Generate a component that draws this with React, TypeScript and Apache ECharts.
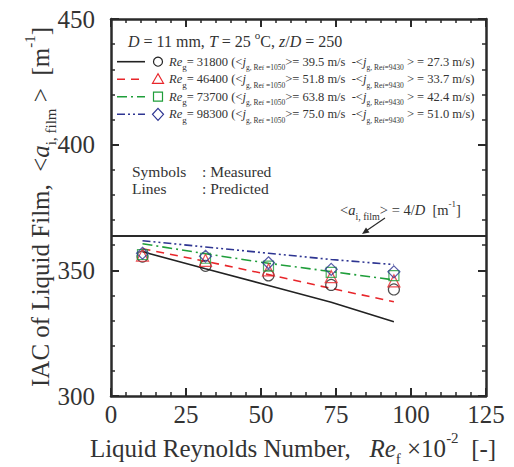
import React, { useEffect, useRef } from "react";
import * as echarts from "echarts";

const FONT = "Liberation Serif";
const INK = "#2a2a2a";
const TXT = "#333333";

const reF = [10.5, 31.5, 52.5, 73.4, 94.3];
const xMin = 0, xMax = 125, xStep = 25;
const yMin = 300, yMax = 450, yStep = 50;

const measuredCircle = [355.5, 351.8, 348.0, 344.2, 342.4];
const measuredTriangle = [356.0, 354.0, 350.2, 347.5, 345.8];
const measuredSquare = [356.3, 354.8, 351.7, 349.2, 347.9];
const measuredDiamond = [356.8, 355.6, 353.0, 350.4, 349.4];

const predictedBlack = [357.4, 350.6, 344.0, 337.3, 329.5];
const predictedRed = [358.6, 353.6, 348.3, 342.8, 337.5];
const predictedGreen = [360.6, 356.6, 352.8, 349.5, 346.2];
const predictedBlue = [361.8, 359.3, 356.8, 354.3, 352.3];

const filmValue = 4 / 0.011;

const regValues = ["31800", "46400", "73700", "98300"];
const jLow = ["39.5", "51.8", "63.8", "75.0"];
const jHigh = ["27.3", "33.7", "42.4", "51.0"];

const colors = ["#222222", "#e8262b", "#1f9e3a", "#2e3592"];
const dashes: any[] = ["solid", [8, 6], [10, 4, 2, 4], [8, 3, 2, 3, 2, 3]];
const symbols = ["circle", "triangle", "rect", "diamond"];
const symbolSizes = [11, 12, 10, 12];

const measured = [measuredCircle, measuredTriangle, measuredSquare, measuredDiamond];
const predicted = [predictedBlack, predictedRed, predictedGreen, predictedBlue];

function axisCommon(pos: string) {
  return {
    type: "value",
    position: pos,
    axisLine: { show: true, onZero: false, lineStyle: { color: INK, width: 2.5 } },
    axisTick: { show: true, inside: true, length: 8, lineStyle: { color: INK, width: 2 } },
    minorTick: { show: true, splitNumber: 5, length: 4, lineStyle: { color: INK, width: 1.5 } },
    splitLine: { show: false },
    minorSplitLine: { show: false },
  } as any;
}

function tok(size: number, extra: any = {}) {
  return { fontSize: size, fontFamily: FONT, fontWeight: "normal", fill: TXT, ...extra };
}

export default function App() {
  const ref = useRef<HTMLDivElement>(null);
  useEffect(() => {
    if (!ref.current) return;
    const chart = echarts.init(ref.current, undefined, { renderer: "svg" });

    const series: any[] = [];
    series.push({
      type: "line",
      data: [[xMin, filmValue], [xMax, filmValue]],
      symbol: "none",
      lineStyle: { color: INK, width: 2 },
      z: 3,
    });
    predicted.forEach((vals, i) => {
      series.push({
        type: "line",
        data: reF.map((x, k) => [x, vals[k]]),
        symbol: "none",
        lineStyle: { color: colors[i], width: 1.6, type: dashes[i] },
        z: 3,
      });
    });
    measured.forEach((vals, i) => {
      series.push({
        type: "scatter",
        data: reF.map((x, k) => [x, vals[k]]),
        symbol: symbols[i],
        symbolSize: symbolSizes[i],
        itemStyle: { color: "rgba(0,0,0,0)", borderColor: colors[i], borderWidth: 1.2 },
        z: 4 + i,
      });
    });

    const rowRich = {
      n: tok(12.5, { lineHeight: 20, verticalAlign: "middle" }),
      it: tok(12.5, { fontStyle: "italic", lineHeight: 20, verticalAlign: "middle" }),
      sb: tok(9, { lineHeight: 9, verticalAlign: "bottom" }),
      ss: tok(7.5, { lineHeight: 8, verticalAlign: "bottom" }),
      sss: tok(7, { lineHeight: 6, verticalAlign: "bottom" }),
    };

    const rowYs = [61.7, 79.3, 96.7, 114.3];
    const graphics: any[] = [];
    rowYs.forEach((y, i) => {
      graphics.push({
        type: "line",
        shape: { x1: 117, y1: y, x2: 145, y2: y },
        style: { stroke: colors[i], lineWidth: 1.6, lineDash: dashes[i] === "solid" ? null : dashes[i] },
      });
      const sx = 158;
      const st = { fill: "none", stroke: colors[i], lineWidth: 1.2 };
      if (i === 0) graphics.push({ type: "circle", shape: { cx: sx, cy: y, r: 4.5 }, style: st });
      if (i === 1) graphics.push({ type: "polygon", shape: { points: [[sx, y - 5.5], [sx - 5.5, y + 4], [sx + 5.5, y + 4]] }, style: st });
      if (i === 2) graphics.push({ type: "rect", shape: { x: sx - 4.5, y: y - 4.5, width: 9, height: 9 }, style: st });
      if (i === 3) graphics.push({ type: "polygon", shape: { points: [[sx, y - 6], [sx + 5.5, y], [sx, y + 6], [sx - 5.5, y]] }, style: st });
      graphics.push({
        type: "text",
        x: 169,
        y: y,
        style: {
          text: `{it|Re}{sb|g}{n|= ${regValues[i]} (<}{it|j}{ss|g, Re}{sss|f}{ss| =1050}{n|>= ${jLow[i]} m/s  -<}{it|j}{ss|g, Re}{sss|f}{ss|=9430}{n| > = ${jHigh[i]} m/s)}`,
          rich: rowRich,
          verticalAlign: "middle",
          align: "left",
        },
      });
    });

    graphics.push({
      type: "text",
      x: 128,
      y: 41,
      style: {
        text: "{i|D}{n| = 11 mm, }{i|T}{n| = 25 }{s|o}{n|C, }{i|z}{n|/}{i|D}{n| = 250}",
        rich: {
          n: tok(16, { lineHeight: 24, verticalAlign: "middle" }),
          i: tok(16, { fontStyle: "italic", lineHeight: 24, verticalAlign: "middle" }),
          s: tok(11, { lineHeight: 12, verticalAlign: "top" }),
        },
        verticalAlign: "middle",
        align: "left",
      },
    });

    const plain = (text: string, x: number, y: number) => ({
      type: "text", x, y,
      style: { text, ...tok(15.5), verticalAlign: "middle", align: "left" },
    });
    graphics.push(plain("Symbols", 132, 171));
    graphics.push(plain(": Measured", 202, 171));
    graphics.push(plain("Lines", 132, 188));
    graphics.push(plain(": Predicted", 202, 188));

    graphics.push({
      type: "text", x: 340, y: 210,
      style: {
        text: "{n|<}{i|a}{sb|i, film}{n|> = 4/}{i|D}{n|  [m}{sp|-1}{n|]}",
        rich: {
          n: tok(14.5, { lineHeight: 22, verticalAlign: "middle" }),
          i: tok(14.5, { fontStyle: "italic", lineHeight: 22, verticalAlign: "middle" }),
          sb: tok(10, { lineHeight: 10, verticalAlign: "bottom" }),
          sp: tok(9, { lineHeight: 9, verticalAlign: "top" }),
        },
        verticalAlign: "middle",
        align: "left",
      },
    });
    graphics.push({
      type: "line",
      shape: { x1: 385, y1: 218, x2: 366, y2: 231 },
      style: { stroke: INK, lineWidth: 1.2 },
    });
    graphics.push({
      type: "polygon",
      shape: { points: [[362, 234], [366.0, 227.5], [369.5, 232.5]] },
      style: { fill: INK },
    });

    const titleRich = {
      n: tok(25, { lineHeight: 36, verticalAlign: "middle" }),
      i: tok(25, { fontStyle: "italic", lineHeight: 36, verticalAlign: "middle" }),
      sb: tok(15, { lineHeight: 15, verticalAlign: "bottom" }),
      sp: tok(15, { lineHeight: 15, verticalAlign: "top" }),
    };
    graphics.push({
      type: "text", x: 40, y: 207, rotation: Math.PI / 2,
      style: {
        text: "{n|IAC of Liquid Film,  <}{i|a}{sb|i, film}{n| >  [m}{sp|-1}{n|]}",
        rich: titleRich,
        verticalAlign: "middle",
        align: "center",
      },
    });
    graphics.push({
      type: "text", x: 293, y: 448,
      style: {
        text: "{n|Liquid Reynolds Number,   }{i|Re}{sb|f}{n| ×10}{sp|-2}{n|  [-]}",
        rich: titleRich,
        verticalAlign: "middle",
        align: "center",
      },
    });

    const labelStyle = { fontFamily: FONT, fontSize: 25, fontWeight: "normal", color: TXT };

    chart.setOption({
      animation: false,
      backgroundColor: "#ffffff",
      grid: { left: 111, right: 28, top: 19, bottom: 71, containLabel: false },
      xAxis: [
        { ...axisCommon("bottom"), min: xMin, max: xMax, interval: xStep, axisLabel: { ...labelStyle, margin: 6 } },
        { ...axisCommon("top"), min: xMin, max: xMax, interval: xStep, axisLabel: { show: false } },
      ],
      yAxis: [
        { ...axisCommon("left"), min: yMin, max: yMax, interval: yStep, axisLabel: { ...labelStyle, margin: 16 } },
        { ...axisCommon("right"), min: yMin, max: yMax, interval: yStep, axisLabel: { show: false } },
      ],
      series,
      graphic: { elements: graphics },
    });

    return () => chart.dispose();
  }, []);

  return <div ref={ref} style={{ width: 514, height: 467, position: "absolute", left: 0, top: 0 }} />;
}
